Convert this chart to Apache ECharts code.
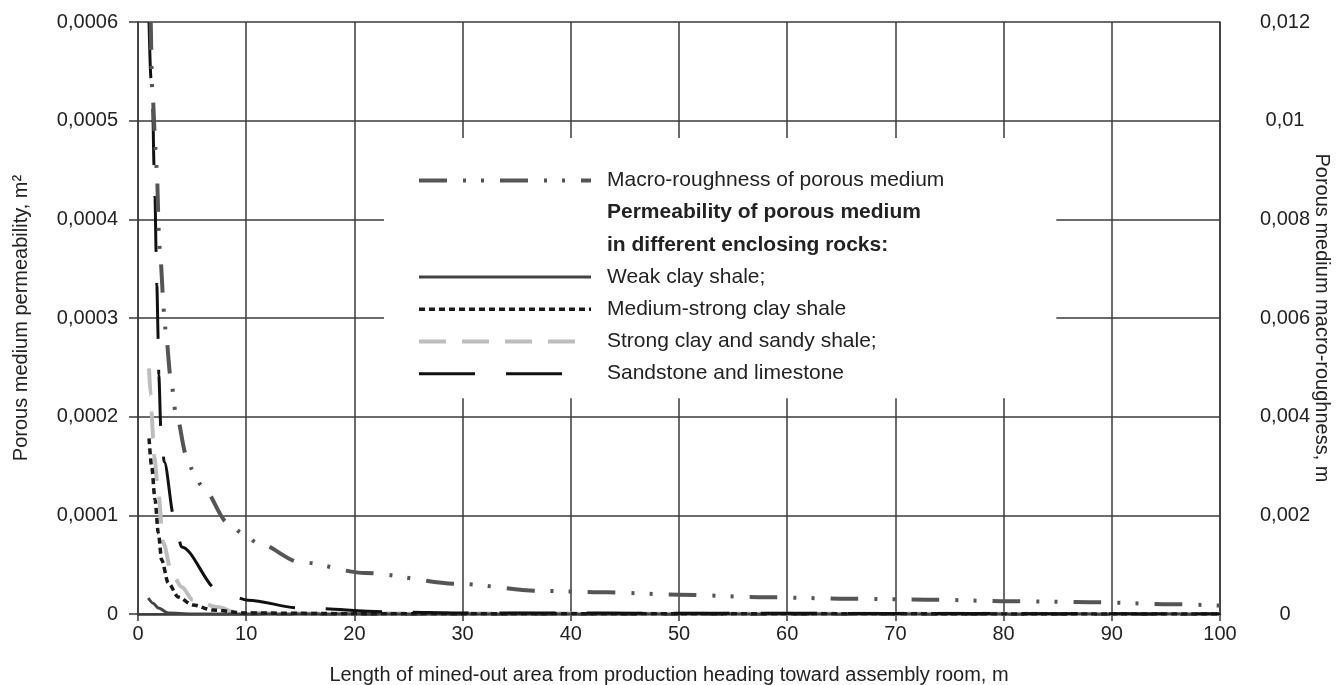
<!DOCTYPE html>
<html>
<head>
<meta charset="utf-8">
<script src="https://cdn.jsdelivr.net/npm/echarts@6/dist/echarts.min.js"></script>
<style>
  html, body { margin: 0; padding: 0; background: #fff; }
  #chart { width: 1336px; height: 685px; }
</style>
</head>
<body>
<div id="chart"></div>
<script>
// values
var roughX = [1.18, 1.32, 1.64, 1.73, 1.94, 2.03, 2.43, 2.56, 3.02, 3.48, 4.5, 5.08, 5.89, 8.35, 9.64, 11.06, 15, 21, 29.6, 37.1, 43.3, 50, 58, 65.6, 73, 80.6, 88, 95.5, 100];
var roughY = [0.012, 0.0106, 0.0094, 0.009, 0.0077, 0.0073, 0.0061, 0.0057, 0.0048, 0.0041, 0.0032, 0.0029, 0.0026, 0.00184, 0.00164, 0.00144, 0.00105, 0.00083, 0.00061, 0.00047, 0.00044, 0.00039, 0.00034, 0.00031, 0.00029, 0.00026, 0.00024, 0.0002, 0.00017];

var weakX = [0.95, 1.39, 1.88, 2.8, 5, 100];
var weakY = [0.0000162, 0.000011, 0.0000061, 0.000001, 0, 0];

var mediumX = [1.02, 1.27, 1.57, 1.88, 2.19, 2.8, 3.72, 5.08, 6.93, 10, 20, 100];
var mediumY = [0.000178, 0.000149, 0.000116, 0.000082, 0.0000547, 0.0000314, 0.0000172, 0.0000091, 0.000004, 0.000001, 0.0000003, 0];

var strongX = [1.02, 1.17, 1.24, 1.41, 1.51, 1.82, 2.34, 3.11, 4.04, 5.08, 7.39, 8.96, 12, 100];
var strongY = [0.000249, 0.000222, 0.000205, 0.000178, 0.000159, 0.000129, 0.000072, 0.0000415, 0.0000274, 0.0000142, 0.0000071, 0.000002, 0.0000005, 0];

var sandX = [1.02, 1.2, 1.36, 1.48, 1.57, 1.68, 1.74, 1.88, 1.92, 2.13, 2.43, 3.35, 4.04, 7.42, 10.17, 14.97, 23.6, 30, 100];
var sandY = [0.0006, 0.000543, 0.000513, 0.000455, 0.000422, 0.000366, 0.000333, 0.000275, 0.000242, 0.000184, 0.000154, 0.000097, 0.000068, 0.000024, 0.000014, 0.000006, 0.000002, 0.000001, 0];

var xTicks = { min: 0, max: 100, interval: 10 };

function pairs(xs, ys) {
  var out = [];
  for (var i = 0; i < xs.length; i++) out.push([xs[i], ys[i]]);
  return out;
}
function comma(v) {
  if (v === 0) return '0';
  return String(+v.toFixed(4)).replace('.', ',');
}

var FONT = 'Liberation Sans';
var gridColor = '#3a3a3a';

var roughStyle = { color: '#555', width: 4, type: [28, 16, 3, 15, 3, 16] };
var weakStyle = { color: '#444', width: 3, type: 'solid' };
var mediumStyle = { color: '#1a1a1a', width: 3.5, type: [6, 4] };
var strongStyle = { color: '#bdbdbd', width: 4, type: [27, 16] };
var sandStyle = { color: '#111', width: 3, type: [56, 31] };

var hidden = { opacity: 0, color: 'rgba(0,0,0,0)', borderWidth: 0 };

var chart = echarts.init(document.getElementById('chart'));
var option = {
  backgroundColor: '#fff',
  animation: false,
  textStyle: { fontFamily: FONT, color: '#222' },
  grid: { left: 138, right: 116, top: 22, bottom: 71, outerBoundsMode: 'none', containLabel: false },
  legend: {
    orient: 'vertical',
    left: 384,
    top: 138,
    backgroundColor: '#fff',
    padding: [32, 112, 14, 33],
    itemWidth: 172,
    itemHeight: 14,
    itemGap: 11.2,
    selectedMode: false,
    textStyle: { fontFamily: FONT, fontSize: 21, color: '#222', padding: [0, 0, 0, 11] },
    data: [
      { name: 'Macro-roughness of porous medium', lineStyle: roughStyle, itemStyle: hidden },
      { name: 'Permeability of porous medium', icon: 'rect', itemStyle: hidden, textStyle: { fontWeight: 'bold' } },
      { name: 'in different enclosing rocks:', icon: 'rect', itemStyle: hidden, textStyle: { fontWeight: 'bold' } },
      { name: 'Weak clay shale;', lineStyle: weakStyle, itemStyle: hidden },
      { name: 'Medium-strong clay shale', lineStyle: mediumStyle, itemStyle: hidden },
      { name: 'Strong clay and sandy shale;', lineStyle: strongStyle, itemStyle: hidden },
      { name: 'Sandstone and limestone', lineStyle: sandStyle, itemStyle: hidden }
    ]
  },
  xAxis: {
    type: 'value',
    min: xTicks.min, max: xTicks.max, interval: xTicks.interval,
    name: 'Length of mined-out area from production heading toward assembly room, m',
    nameLocation: 'middle',
    nameGap: 51,
    nameMoveOverlap: false,
    nameTextStyle: { fontFamily: FONT, fontSize: 20, color: '#222', padding: [0, 20, 0, 0] },
    axisLine: { show: true, lineStyle: { color: gridColor, width: 2.5 } },
    axisTick: { show: true, length: 7, lineStyle: { color: gridColor, width: 1.5 } },
    axisLabel: { fontFamily: FONT, fontSize: 20, color: '#222', margin: 10 },
    splitLine: { show: true, lineStyle: { color: gridColor, width: 1.5 } }
  },
  yAxis: [{
    type: 'value',
    min: 0, max: 0.0006, interval: 0.0001,
    position: 'left',
    name: 'Porous medium permeability, m\u00b2',
    nameLocation: 'middle',
    nameRotate: 90,
    nameGap: 107,
    nameMoveOverlap: false,
    nameTextStyle: { fontFamily: FONT, fontSize: 20, color: '#222' },
    axisLine: { show: true, lineStyle: { color: gridColor, width: 1.5 } },
    axisTick: { show: true, length: 9, lineStyle: { color: gridColor, width: 1.5 } },
    axisLabel: { fontFamily: FONT, fontSize: 20, color: '#222', margin: 20, formatter: comma },
    splitLine: { show: true, lineStyle: { color: gridColor, width: 1.5 } }
  }, {
    type: 'value',
    min: 0, max: 0.012, interval: 0.002,
    position: 'right',
    name: 'Porous medium macro-roughness, m',
    nameLocation: 'middle',
    nameRotate: -90,
    nameGap: 92,
    nameMoveOverlap: false,
    nameTextStyle: { fontFamily: FONT, fontSize: 20, color: '#222' },
    axisLine: { show: true, lineStyle: { color: gridColor, width: 1.5 } },
    axisTick: { show: false },
    axisLabel: { fontFamily: FONT, fontSize: 20, color: '#222', margin: 65, align: 'center', formatter: comma },
    splitLine: { show: false }
  }],
  series: [
    { name: 'Macro-roughness of porous medium', type: 'line', yAxisIndex: 1, symbol: 'none', smooth: 0.3, smoothMonotone: 'x', itemStyle: { color: roughStyle.color }, lineStyle: roughStyle, data: pairs(roughX, roughY), z: 5 },
    { name: 'Permeability of porous medium', type: 'line', data: [] },
    { name: 'in different enclosing rocks:', type: 'line', data: [] },
    { name: 'Weak clay shale;', type: 'line', symbol: 'none', smooth: 0.3, smoothMonotone: 'x', itemStyle: { color: weakStyle.color }, lineStyle: weakStyle, data: pairs(weakX, weakY), z: 4 },
    { name: 'Medium-strong clay shale', type: 'line', symbol: 'none', smooth: 0.3, smoothMonotone: 'x', itemStyle: { color: mediumStyle.color }, lineStyle: mediumStyle, data: pairs(mediumX, mediumY), z: 4 },
    { name: 'Strong clay and sandy shale;', type: 'line', symbol: 'none', smooth: 0.3, smoothMonotone: 'x', itemStyle: { color: strongStyle.color }, lineStyle: strongStyle, data: pairs(strongX, strongY), z: 3 },
    { name: 'Sandstone and limestone', type: 'line', symbol: 'none', smooth: 0.3, smoothMonotone: 'x', itemStyle: { color: sandStyle.color }, lineStyle: sandStyle, data: pairs(sandX, sandY), z: 4 }
  ]
};
chart.setOption(option);
</script>
</body>
</html>
